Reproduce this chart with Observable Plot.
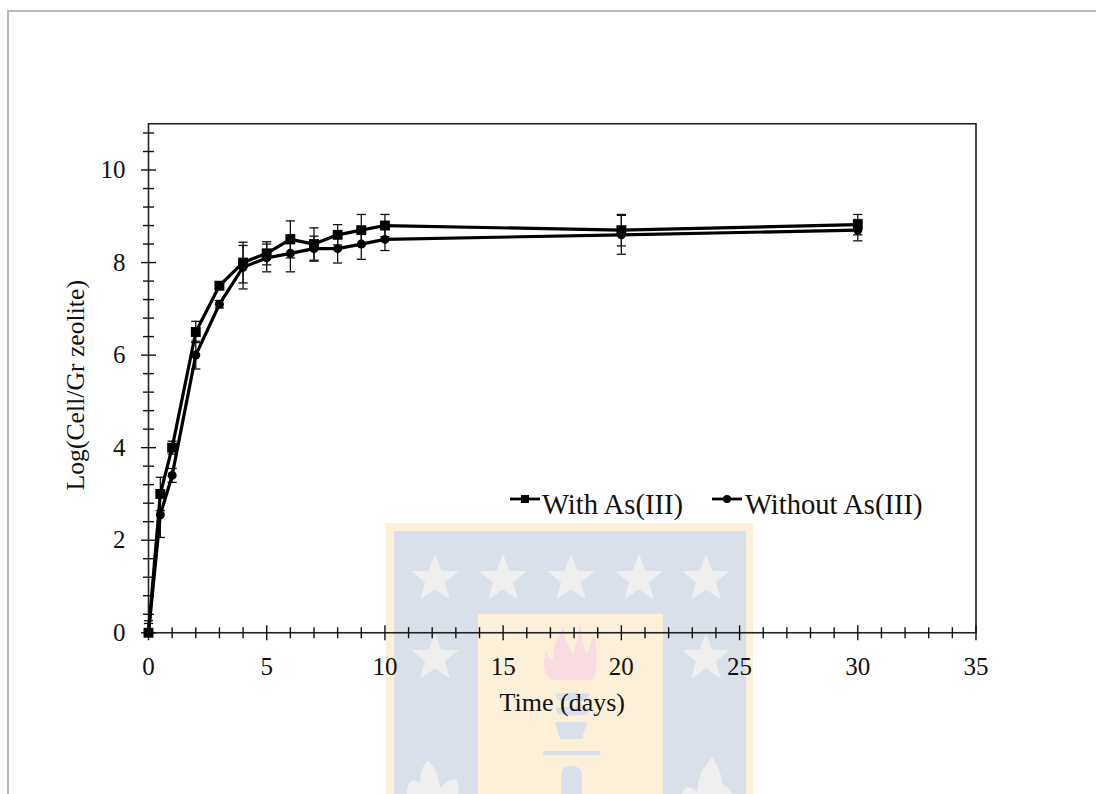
<!DOCTYPE html>
<html><head><meta charset="utf-8">
<script src="https://cdn.jsdelivr.net/npm/d3@7"></script>
<script src="https://cdn.jsdelivr.net/npm/@observablehq/plot@0.6"></script>
<style>
html,body{margin:0;padding:0;background:#fff;overflow:hidden;width:1096px;height:794px}
#page{position:relative;width:1096px;height:794px;overflow:hidden;font-family:"Liberation Serif",serif;color:#111}
#border{position:absolute;left:6.5px;top:10px;width:1200px;height:1000px;border:2px solid #b8b8b8;box-sizing:border-box}
#wm{position:absolute;left:0;top:0}
#chart{position:absolute;left:0;top:0}
.leg{position:absolute;top:488px;height:32px;font-size:28.6px;line-height:34px;white-space:nowrap}
.leg svg{position:absolute;left:0;top:0}
.leg span{position:absolute;top:0}
</style></head>
<body><div id="page">
<div id="border"></div>
<svg id="wm" width="1096" height="794"></svg>
<div id="chart"></div>
<div class="leg" style="left:510px"><svg width="32" height="32"><line x1="0" x2="30" y1="11" y2="11" stroke="#000" stroke-width="2.8"/><rect x="11" y="7" width="8" height="8"/></svg><span style="left:32px">With As(III)</span></div>
<div class="leg" style="left:712px"><svg width="32" height="32"><line x1="0" x2="30" y1="11" y2="11" stroke="#000" stroke-width="2.8"/><circle cx="15" cy="11" r="4"/></svg><span style="left:33px">Without As(III)</span></div>
</div>
<script>
const days = [0,0.5,1,2,3,4,5,6,7,8,9,10,20,30];
const withAs = [0,3,4,6.5,7.5,8,8.2,8.5,8.4,8.6,8.7,8.8,8.7,8.82];
const withErr = [0.26,0.36,0.14,0.23,0.08,0.44,0.25,0.4,0.35,0.22,0.34,0.24,0.34,0.22];
const withoutAs = [0,2.55,3.4,6,7.1,7.9,8.1,8.2,8.3,8.3,8.4,8.5,8.6,8.7];
const withoutErr = [0.2,0.49,0.15,0.3,0.08,0.47,0.3,0.4,0.27,0.31,0.33,0.24,0.42,0.23];
const xMajor = [0,5,10,15,20,25,30,35];
const xMinor = d3.range(0,36).filter(v=>v%5!==0);
const yMajor = [0,2,4,6,8,10];
const yMinor = [0.4,0.8,1.2,1.6,2.4,2.8,3.2,3.6,4.4,4.8,5.2,5.6,6.4,6.8,7.2,7.6,8.4,8.8,9.2,9.6,10.4,10.8];

const row = (ys,es)=>days.map((x,i)=>({x,y:ys[i],lo:Math.max(0,ys[i]-es[i]),hi:ys[i]+es[i]}));
const A = row(withAs,withErr), B = row(withoutAs,withoutErr);

const hTick = {draw(c,s){const r=Math.sqrt(s/Math.PI);c.moveTo(-r,0);c.lineTo(r,0);}};
const vTick = {draw(c,s){const r=Math.sqrt(s/Math.PI);c.moveTo(0,-r);c.lineTo(0,r);}};
const errMarks = D => [
  Plot.ruleX(D,{x:"x",y1:"lo",y2:"hi",stroke:"#111",strokeWidth:1.3}),
  Plot.dot(D,{x:"x",y:"hi",symbol:hTick,r:4.6,fill:"none",stroke:"#111",strokeWidth:1.3}),
  Plot.dot(D.filter(d=>d.lo>0),{x:"x",y:"lo",symbol:hTick,r:4.6,fill:"none",stroke:"#111",strokeWidth:1.3})
];
const plot = Plot.plot({
  width:1096,height:794,
  marginLeft:148,marginRight:120.5,marginTop:123.25,marginBottom:161.75,
  style:{background:"transparent",fontFamily:"'Liberation Serif',serif",overflow:"visible"},
  x:{domain:[0,35]},y:{domain:[0,11]},
  marks:[
    Plot.frame({stroke:"#222",strokeWidth:1.6}),
    Plot.dot(xMinor,{x:d=>d,y:()=>0,symbol:vTick,r:5.5,fill:"none",stroke:"#111",strokeWidth:1.4}),
    Plot.dot(xMajor,{x:d=>d,y:()=>0,symbol:vTick,r:7.5,fill:"none",stroke:"#111",strokeWidth:1.4}),
    Plot.dot(yMinor,{x:()=>0,y:d=>d,symbol:hTick,r:5.5,fill:"none",stroke:"#111",strokeWidth:1.4}),
    Plot.dot(yMajor,{x:()=>0,y:d=>d,symbol:hTick,r:7.5,fill:"none",stroke:"#111",strokeWidth:1.4}),
    Plot.axisX({ticks:xMajor,tickSize:0,tickPadding:24,fontSize:25,label:null,tickFormat:d=>String(d),fill:"#111"}),
    Plot.axisY({ticks:yMajor,tickSize:0,tickPadding:23,fontSize:25,label:null,tickFormat:d=>String(d),fill:"#111"}),
    Plot.text(["Time (days)"],{frameAnchor:"bottom",dy:78,fontSize:26,fill:"#111",text:d=>d}),
    Plot.text(["Log(Cell/Gr zeolite)"],{frameAnchor:"left",textAnchor:"middle",rotate:-90,dx:-73,dy:7,fontSize:25.7,fill:"#111",text:d=>d}),
    ...errMarks(B),
    ...errMarks(A),
    Plot.line(B,{x:"x",y:"y",stroke:"#000",strokeWidth:3.2}),
    Plot.line(A,{x:"x",y:"y",stroke:"#000",strokeWidth:3.2}),
    Plot.dot(B,{x:"x",y:"y",r:4.5,fill:"#000",stroke:"none"}),
    Plot.dot(A,{x:"x",y:"y",symbol:"square",r:5.6,fill:"#000",stroke:"none"})
  ]
});
document.getElementById("chart").appendChild(plot);

// faint background seal behind the chart
const wm = d3.select("#wm");
const R=(x,y,w,h,f)=>wm.append("rect").attr("x",x).attr("y",y).attr("width",w).attr("height",h).attr("fill",f);
R(386,523,367,271,"#fdf0d9");
R(394,531,352,263,"#d9e0ea");
R(478,614,185,180,"#fdf0d9");
const star=(cx,cy,r)=>{const p=[];for(let i=0;i<10;i++){const a=-Math.PI/2+i*Math.PI/5,q=i%2?r*0.42:r;p.push([cx+q*Math.cos(a),cy+q*Math.sin(a)]);}
  wm.append("polygon").attr("points",p.map(d=>d.join(",")).join(" ")).attr("fill","#efefef");};
[435,503,571,639,706].forEach(x=>star(x,579,25));
[435,706].forEach(x=>star(x,658,25));
const P=(d,f)=>wm.append("path").attr("d",d).attr("fill",f);
P("M552 680C544 676 542 664 546 651C548 657 550 660 553 660C552 646 558 636 564 626C564 640 569 646 573 654C576 646 578 634 580 624C583 636 582 646 587 654C589 648 592 640 594 634C596 644 598 660 596 670C595 677 592 680 588 680Z","#f9dce1");
P("M555 722L587 722L582 739L560 739Z","#d9e0ea");
P("M555 694Q571 691 590 694L587 700Q571 703 558 700Z","#d9e0ea");
P("M555 708Q571 705 590 708L587 714Q571 717 558 714Z","#d9e0ea");
P("M543 751L600 751L600 755L543 755Z","#d9e0ea");
P("M561 794L561 777Q561 766 571 766Q582 766 582 777L582 794Z","#d9e0ea");
P("M407 794Q407 776 420 782Q420 768 428 760Q438 770 440 788Q448 778 457 780Q460 788 458 794Z","#efefef");
P("M682 794Q684 788 688 787Q694 788 697 792Q698 772 712 757Q722 772 722 784Q728 786 732 794Z","#efefef");
</script>
</body></html>
